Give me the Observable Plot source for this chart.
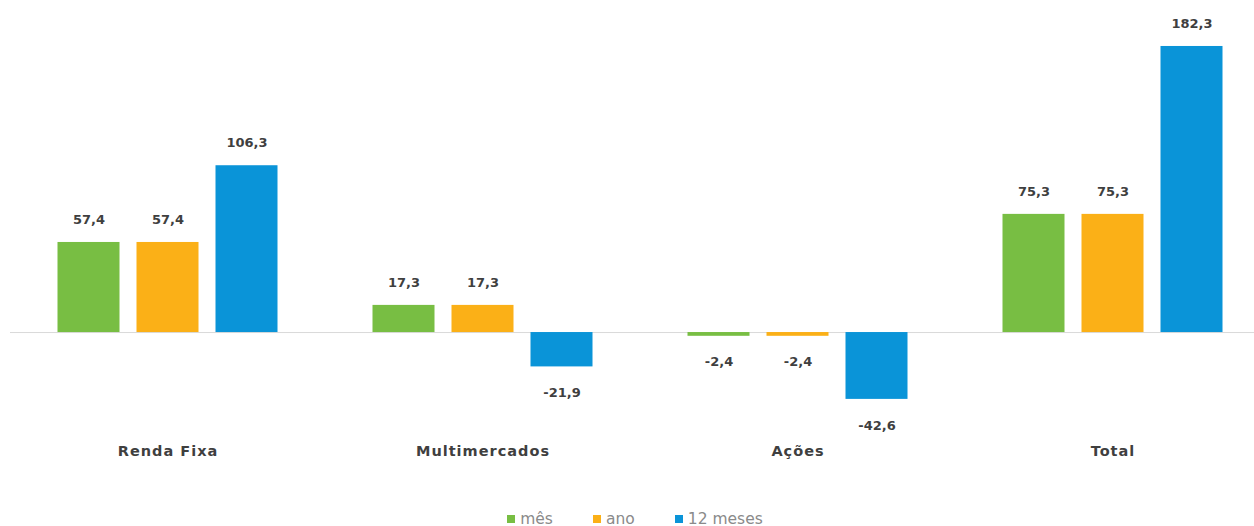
<!DOCTYPE html>
<html>
<head>
<meta charset="utf-8">
<script src="https://cdn.jsdelivr.net/npm/d3@7"></script>
<script src="https://cdn.jsdelivr.net/npm/@observablehq/plot@0.6"></script>
<style>
  html, body { margin: 0; padding: 0; background: #fff; }
  #legend { display: flex; justify-content: center; gap: 40px; font: 15.5px "DejaVu Sans", sans-serif; color: #8a8a8a; margin-top: 4px; padding-left: 16px; height: 20px; align-items: center; }
  #legend span.sw { display: inline-block; width: 8px; height: 8px; margin-right: 5px; vertical-align: middle; position: relative; top: -1px; }
  g[aria-label="fx-axis tick label"] text { letter-spacing: 1px; }
</style>
</head>
<body>
<div id="chart"></div>
<div id="legend"></div>
<script>
const categories = ["Renda Fixa", "Multimercados", "Ações", "Total"];
const series = ["mês", "ano", "12 meses"];
const mes = [57.4, 17.3, -2.4, 75.3];
const ano = [57.4, 17.3, -2.4, 75.3];
const meses12 = [106.3, -21.9, -42.6, 182.3];
const colors = ["#78be43", "#fbb017", "#0a94d8"];

const values = [mes, ano, meses12];
const data = [];
categories.forEach((c, i) => series.forEach((s, j) => data.push({cat: c, serie: s, value: values[j][i]})));
const fmt = v => v.toFixed(1).replace(".", ",");

const chart = Plot.plot({
  width: 1254,
  height: 505,
  marginTop: 0,
  marginLeft: 9.5,
  marginRight: -17,
  marginBottom: 65,
  style: {fontFamily: "'DejaVu Sans', sans-serif", background: "#fff"},
  fx: {domain: categories, padding: 0},
  x: {domain: series, axis: null, paddingInner: 0.215, paddingOuter: 0.6},
  y: {domain: [-68.8, 211.6], axis: null},
  color: {domain: series, range: colors},
  marks: [
    Plot.ruleY([0], {stroke: "#d9d9d9", strokeWidth: 1}),
    Plot.barY(data, {fx: "cat", x: "serie", y: "value", fill: "serie"}),
    Plot.text(data.filter(d => d.value >= 0), {fx: "cat", x: "serie", y: "value", text: d => fmt(d.value), dy: -23, fontSize: 13, fontWeight: "bold", fill: "#3f3f3f"}),
    Plot.text(data.filter(d => d.value < 0), {fx: "cat", x: "serie", y: "value", text: d => fmt(d.value), dy: 26, fontSize: 13, fontWeight: "bold", fill: "#3f3f3f"}),
    Plot.axisFx({anchor: "bottom", tickSize: 0, tickPadding: 5, fontSize: 14.5, fontWeight: "bold", label: null, color: "#3f3f3f"})
  ]
});
document.getElementById("chart").appendChild(chart);

const legend = document.getElementById("legend");
series.forEach((s, i) => {
  const item = document.createElement("span");
  item.innerHTML = `<span class="sw" style="background:${colors[i]}"></span>${s}`;
  legend.appendChild(item);
});
</script>
</body>
</html>
